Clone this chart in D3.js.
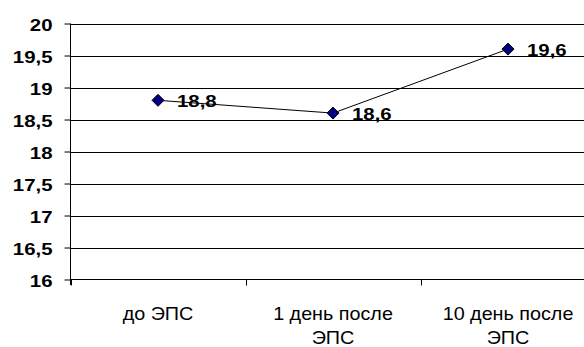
<!DOCTYPE html>
<html><head><meta charset="utf-8">
<script src="https://cdn.jsdelivr.net/npm/d3@7"></script>
<style>body{margin:0;background:#fff}svg{display:block}</style>
</head><body>
<script>
const categories = [["до ЭПС"], ["1 день после", "ЭПС"], ["10 день после", "ЭПС"]];
const values = [18.8, 18.6, 19.6];
const valueLabels = ["18,8", "18,6", "19,6"];
const yTicks = [16, 16.5, 17, 17.5, 18, 18.5, 19, 19.5, 20];
const yTickLabels = ["16", "16,5", "17", "17,5", "18", "18,5", "19", "19,5", "20"];

const FONT = "'Liberation Sans', Arial, sans-serif";
const W = 584, H = 347;
const svg = d3.select("body").append("svg").attr("width", W).attr("height", H);
const x = d3.scaleBand().domain(d3.range(categories.length)).range([70.5, 595.5]);
const y = d3.scaleLinear().domain([16, 20]).range([279.5, 23.5]);

// gridlines
svg.append("g").selectAll("line").data(yTicks.slice(1)).join("line")
  .attr("x1", 70).attr("x2", W).attr("y1", d => Math.round(y(d)) + 0.5).attr("y2", d => Math.round(y(d)) + 0.5)
  .attr("stroke", "#000").attr("stroke-width", 1);

// y axis
const yAxis = d3.axisLeft(y).tickValues(yTicks).tickSize(6).tickFormat((d, i) => yTickLabels[i]);
const gy = svg.append("g").attr("transform", "translate(70.5,0)").call(yAxis);
gy.select(".domain").attr("stroke", "#000").attr("d", "M0,23.5V285");
gy.selectAll(".tick line").attr("stroke", "#000");
gy.selectAll(".tick text").attr("x", 0).attr("dy", null).attr("dominant-baseline", null)
  .attr("transform", "translate(-18,6.5) scale(1.2,1)")
  .attr("font-family", FONT).attr("font-weight", "bold")
  .attr("font-size", 17).attr("fill", "#000").attr("text-anchor", "end");

// x axis
const gx = svg.append("g").attr("transform", "translate(0,279.5)");
gx.append("line").attr("x1", 70).attr("x2", W).attr("stroke", "#000");
const bounds = d3.range(categories.length + 1).map(i => i < categories.length ? x(i) : x(i - 1) + x.bandwidth());
gx.selectAll("line.tk").data(bounds).join("line").attr("class", "tk")
  .attr("x1", d => Math.round(d) + 0.5).attr("x2", d => Math.round(d) + 0.5).attr("y1", 0).attr("y2", 6).attr("stroke", "#000");
const xl = gx.selectAll("text.cat").data(categories).join("text").attr("class", "cat")
  .attr("font-family", FONT).attr("font-size", 19)
  .attr("text-anchor", "middle").attr("fill", "#000")
  .attr("transform", (d, i) => `translate(${x(i) + x.bandwidth() / 2},0) scale(1.04,1)`);
xl.selectAll("tspan").data(d => d).join("tspan").attr("x", 0).attr("y", (d, j) => 41 + j * 24).text(d => d);

// line
const cx = i => x(i) + x.bandwidth() / 2;
svg.append("path").datum(values)
  .attr("d", d3.line().x((d, i) => cx(i)).y(d => y(d)))
  .attr("fill", "none").attr("stroke", "#000").attr("stroke-width", 1);

// markers
svg.append("g").selectAll("path").data(values).join("path")
  .attr("transform", (d, i) => `translate(${cx(i)},${y(d)})`)
  .attr("d", "M0,-6L6,0L0,6L-6,0Z").attr("fill", "#000080").attr("stroke", "#000").attr("stroke-width", 1);

// data labels
svg.append("g").selectAll("text").data(values).join("text")
  .attr("transform", (d, i) => `translate(${cx(i) + 19},${y(d) + 6.5}) scale(1.2,1)`)
  .attr("font-family", FONT).attr("font-weight", "bold")
  .attr("font-size", 17).attr("fill", "#000").text((d, i) => valueLabels[i]);
</script>
</body></html>
